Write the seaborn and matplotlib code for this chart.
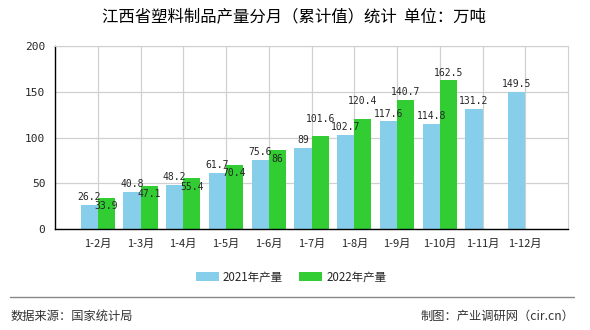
import numpy as np
import pandas as pd
import matplotlib
matplotlib.use("Agg")
import matplotlib.pyplot as plt
import seaborn as sns
from matplotlib.patches import Patch
from matplotlib.lines import Line2D
from matplotlib.transforms import Bbox

categories = ["1-2月", "1-3月", "1-4月", "1-5月", "1-6月", "1-7月", "1-8月",
              "1-9月", "1-10月", "1-11月", "1-12月"]
values_2021 = [26.2, 40.8, 48.2, 61.7, 75.6, 89, 102.7, 117.6, 114.8, 131.2, 149.5]
values_2022 = [33.9, 47.1, 55.4, 70.4, 86, 101.6, 120.4, 140.7, 162.5, np.nan, np.nan]
series_names = ["2021年产量", "2022年产量"]
colors = ["#87CEEB", "#32CD32"]

sns.set_style("white")
plt.rcParams["font.family"] = ["Noto Sans CJK SC", "DejaVu Sans"]

df = pd.DataFrame({
    "月份": categories * 2,
    "产量": values_2021 + values_2022,
    "系列": [series_names[0]] * len(categories) + [series_names[1]] * len(categories),
})

fig = plt.figure(figsize=(5.9, 3.3), dpi=100)
ax = fig.add_axes([55 / 590, 1 - 229 / 330, (568 - 55) / 590, (229 - 46) / 330])

sns.barplot(data=df, x="月份", y="产量", hue="系列", palette=colors,
            width=0.8, ax=ax, legend=False, saturation=1, linewidth=0,
            edgecolor="none")

ax.set_xlim(-1, len(categories))
ax.set_ylim(0, 200)
ax.set_yticks([0, 50, 100, 150, 200])
ax.set_xlabel("")
ax.set_ylabel("")
ax.grid(True, color="#d0d0d0", linewidth=0.9)
ax.set_axisbelow(True)
for s in ["top", "right"]:
    ax.spines[s].set_color("#d0d0d0")
for s in ["left", "bottom"]:
    ax.spines[s].set_color("black")
    ax.spines[s].set_linewidth(1.0)
ax.tick_params(axis="both", direction="out", length=5, width=1, color="black",
               labelsize=8, pad=2)
for lab in ax.get_yticklabels():
    lab.set_family(["DejaVu Sans Mono", "DejaVu Sans"])

# data labels
lab_font = ["DejaVu Sans Mono", "DejaVu Sans"]
texts = []
for i, v in enumerate(values_2021):
    t = ax.annotate(f"{v:g}", (i - 0.2, v), xytext=(0, 2), textcoords="offset points",
                    ha="center", va="bottom", fontsize=7, family=lab_font)
    texts.append(t)
for i, v in enumerate(values_2022):
    if np.isnan(v):
        continue
    if i < 5:
        t = ax.annotate(f"{v:g}", (i + 0.2, v), xytext=(0, -6), textcoords="offset points",
                        ha="center", va="center", fontsize=7, family=lab_font)
    else:
        t = ax.annotate(f"{v:g}", (i + 0.2, v), xytext=(0, 2), textcoords="offset points",
                        ha="center", va="bottom", fontsize=7, family=lab_font)
    texts.append(t)

# simple collision avoidance: push clearly overlapping labels upward
fig.canvas.draw()
renderer = fig.canvas.get_renderer()


def core(bb):
    return Bbox.from_extents(bb.x0 + 1, bb.y0 + 2.5, bb.x1 - 1, bb.y1 - 2.5)


placed = []
for t in texts:
    for _ in range(10):
        bb = core(t.get_window_extent(renderer))
        if not any(bb.overlaps(p) for p in placed):
            break
        ox, oy = t.xyann
        t.xyann = (ox, oy + 7)
    placed.append(core(t.get_window_extent(renderer)))

fig.text(294 / 590, 1 - 17 / 330, "江西省塑料制品产量分月（累计值）统计  单位：万吨",
         ha="center", va="center", fontsize=11.8, color="black")

handles = [Patch(facecolor=c, edgecolor="none") for c in colors]
fig.legend(handles, series_names, loc="center", bbox_to_anchor=(291 / 590, 1 - 277 / 330),
           ncol=2, frameon=False, fontsize=8.3, handlelength=2.0, handleheight=0.8,
           handletextpad=0.35, columnspacing=1.4)

fig.add_artist(Line2D([10 / 590, 574 / 590], [1 - 297 / 330, 1 - 297 / 330],
                      color="#888888", linewidth=1, transform=fig.transFigure))
fig.text(11 / 590, 1 - 316 / 330, "数据来源：国家统计局", ha="left", va="center",
         fontsize=8.8, color="#333333")
fig.text(574 / 590, 1 - 316 / 330, "制图：产业调研网（cir.cn）", ha="right", va="center",
         fontsize=8.8, color="#333333")

fig.savefig("out.png", dpi=100)
